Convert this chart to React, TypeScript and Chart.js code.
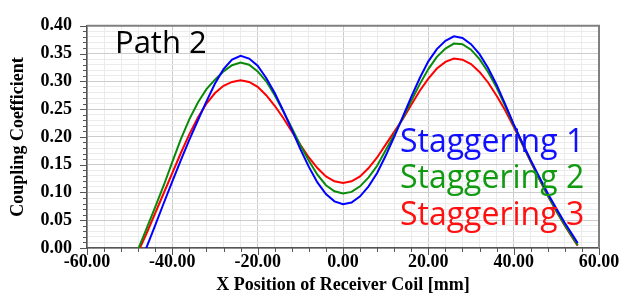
import React, { useEffect, useRef } from 'react';
import { Chart, registerables } from 'chart.js';

Chart.register(...registerables);

// X position of receiver coil [mm]
const xPositions = [
  -50, -48, -46, -44, -42, -40, -38, -36, -34, -32, -30, -28, -26, -24, -22, -20, -18, -16, -14, -12,
  -10, -8, -6, -4, -2, 0, 2, 4, 6, 8, 10, 12, 14, 16, 18, 20, 22, 24, 26, 28, 30, 32, 34, 36, 38, 40,
  42, 44, 46, 48, 50, 52, 54, 55,
];

const staggering1 = [
  -0.077, -0.037, 0.002, 0.041, 0.081, 0.12, 0.158, 0.195, 0.23, 0.264, 0.296, 0.322, 0.339, 0.346,
  0.341, 0.328, 0.306, 0.279, 0.247, 0.213, 0.178, 0.146, 0.118, 0.097, 0.084, 0.079, 0.082, 0.093,
  0.111, 0.135, 0.166, 0.2, 0.236, 0.272, 0.306, 0.336, 0.358, 0.373, 0.381, 0.378, 0.367, 0.349,
  0.324, 0.294, 0.259, 0.223, 0.19, 0.158, 0.128, 0.098, 0.071, 0.045, 0.021, 0.009,
];

const staggering2 = [
  -0.04, -0.002, 0.036, 0.074, 0.113, 0.155, 0.196, 0.232, 0.262, 0.286, 0.303, 0.318, 0.329, 0.334,
  0.33, 0.318, 0.3, 0.275, 0.246, 0.216, 0.185, 0.157, 0.132, 0.113, 0.102, 0.098, 0.101, 0.111,
  0.127, 0.148, 0.176, 0.204, 0.234, 0.265, 0.295, 0.322, 0.344, 0.359, 0.368, 0.367, 0.357, 0.34,
  0.317, 0.289, 0.256, 0.221, 0.188, 0.156, 0.125, 0.095, 0.067, 0.041, 0.017, 0.005,
];

const staggering3 = [
  -0.043, -0.007, 0.027, 0.063, 0.099, 0.135, 0.171, 0.205, 0.235, 0.26, 0.279, 0.292, 0.299, 0.302,
  0.299, 0.29, 0.275, 0.256, 0.234, 0.21, 0.186, 0.163, 0.144, 0.129, 0.12, 0.117, 0.12, 0.129,
  0.144, 0.163, 0.186, 0.209, 0.232, 0.258, 0.283, 0.305, 0.323, 0.335, 0.341, 0.339, 0.331, 0.317,
  0.298, 0.274, 0.248, 0.218, 0.187, 0.155, 0.124, 0.094, 0.066, 0.04, 0.016, 0.004,
];

const seriesLabels = ['Staggering 1', 'Staggering 2', 'Staggering 3'];
const seriesColors = ['#0000ff', '#0a8a0a', '#ff0000'];
const textColors = ['#1010ff', '#109a10', '#ff1010'];
const annotationText = 'Path 2';
const xTitle = 'X Position of Receiver Coil [mm]';
const yTitle = 'Coupling Coefficient';

export default function App() {
  const ref = useRef<HTMLCanvasElement>(null);

  useEffect(() => {
    document.body.style.margin = '0';
    const canvas = ref.current;
    if (!canvas) return;

    const isMajorY = (v: number) => Math.abs(v * 20 - Math.round(v * 20)) < 1e-6;
    const isMajorX = (v: number) => Math.abs(v / 20 - Math.round(v / 20)) < 1e-6;
    const toPts = (ys: number[]) => xPositions.map((x, i) => ({ x, y: ys[i] }));
    const serif = 'Liberation Serif';

    const overlay = {
      id: 'overlay',
      afterDraw(chart: any) {
        const { ctx, chartArea } = chart;
        const xs = chart.scales.x;
        const ys = chart.scales.y;
        ctx.save();
        // tick marks
        ctx.strokeStyle = '#555';
        ctx.lineWidth = 1;
        ctx.beginPath();
        for (const t of ys.ticks) {
          const py = Math.round(ys.getPixelForValue(t.value)) + 0.5;
          const len = isMajorY(t.value) ? 7 : 4;
          ctx.moveTo(chartArea.left - len, py);
          ctx.lineTo(chartArea.left, py);
        }
        for (const t of xs.ticks) {
          const px = Math.round(xs.getPixelForValue(t.value)) + 0.5;
          const len = isMajorX(t.value) ? 7 : 4;
          ctx.moveTo(px, chartArea.bottom);
          ctx.lineTo(px, chartArea.bottom + len);
        }
        ctx.stroke();
        // frame
        ctx.strokeStyle = '#808080';
        ctx.lineWidth = 2;
        ctx.beginPath();
        ctx.moveTo(chartArea.left, chartArea.top);
        ctx.lineTo(chartArea.right, chartArea.top);
        ctx.lineTo(chartArea.right, chartArea.bottom);
        ctx.stroke();
        // annotation text
        ctx.fillStyle = '#000';
        ctx.textBaseline = 'alphabetic';
        ctx.textAlign = 'left';
        ctx.font = '31px "Open Sans"';
        ctx.fillText(annotationText, 115, 53);
        ctx.font = '32px "Open Sans"';
        const baselines = [151.5, 188, 224.5];
        seriesLabels.forEach((s, i) => {
          ctx.fillStyle = textColors[i];
          ctx.fillText(s, 400, baselines[i]);
        });
        ctx.restore();
      },
    };

    const chart = new Chart(canvas, {
      type: 'line',
      data: {
        datasets: [staggering1, staggering2, staggering3].map((ys, i) => ({
          label: seriesLabels[i],
          data: toPts(ys),
          borderColor: seriesColors[i],
          backgroundColor: seriesColors[i],
          borderWidth: 2,
          pointRadius: 0,
          tension: 0,
          fill: false,
        })),
      },
      options: {
        animation: false,
        responsive: false,
        devicePixelRatio: 1,
        layout: { padding: { top: 13, right: 32, left: 0, bottom: 0 } },
        plugins: { legend: { display: false }, tooltip: { enabled: false } },
        scales: {
          x: {
            type: 'linear',
            min: -60,
            max: 60,
            afterFit: (s: any) => {
              s.height = 52;
            },
            ticks: {
              stepSize: 4,
              autoSkip: false,
              maxRotation: 0,
              padding: 4,
              color: '#000',
              font: { family: serif, size: 18, weight: 'bold' },
              callback: (v: any) => (isMajorX(Number(v)) ? Number(v).toFixed(2) : ''),
            },
            grid: {
              drawTicks: false,
              color: (c: any) => (c.tick && isMajorX(c.tick.value) ? '#cccccc' : '#ebebeb'),
              lineWidth: 1,
            },
            border: { color: '#555', width: 1.5 },
            title: {
              display: true,
              text: xTitle,
              color: '#000',
              font: { family: serif, size: 18, weight: 'bold' },
              padding: { top: 0, bottom: 4 },
            },
          },
          y: {
            type: 'linear',
            min: 0,
            max: 0.4,
            afterFit: (s: any) => {
              s.width = 87;
            },
            ticks: {
              stepSize: 0.01,
              autoSkip: false,
              padding: 15,
              color: '#000',
              font: { family: serif, size: 18, weight: 'bold' },
              callback: (v: any) => (isMajorY(Number(v)) ? Number(v).toFixed(2) : ''),
            },
            grid: {
              drawTicks: false,
              color: (c: any) => (c.tick && isMajorY(c.tick.value) ? '#cccccc' : '#ebebeb'),
              lineWidth: 1,
            },
            border: { color: '#555', width: 1.5 },
            title: {
              display: true,
              text: yTitle,
              color: '#000',
              font: { family: serif, size: 18, weight: 'bold' },
              padding: { top: 8, bottom: 0 },
            },
          },
        },
      },
      plugins: [overlay],
    });

    return () => chart.destroy();
  }, []);

  return (
    <div style={{ position: 'relative', width: 631, height: 300, background: '#fff' }}>
      <canvas ref={ref} width={631} height={300} style={{ display: 'block' }} />
    </div>
  );
}
